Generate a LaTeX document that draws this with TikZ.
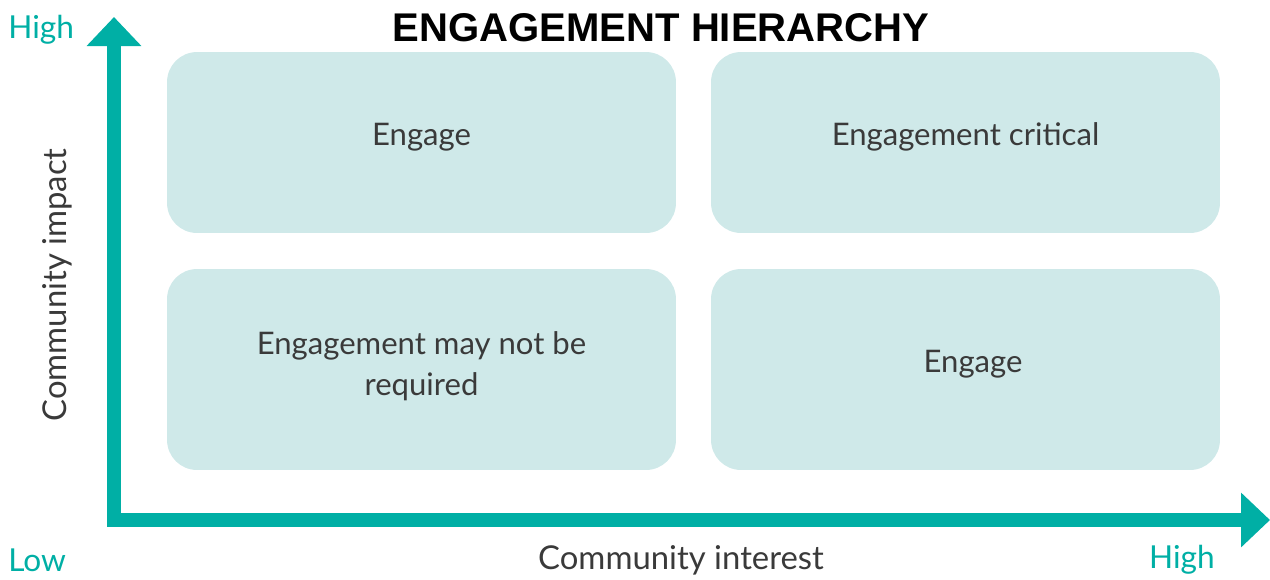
\documentclass[tikz,border=0pt]{standalone}
\usepackage{fontspec}
\setmainfont{Lato}
\newfontfamily\titlefont{Liberation Sans}
\usetikzlibrary{arrows.meta,positioning}

\definecolor{teal}{HTML}{00AFA5}
\definecolor{cell}{HTML}{CFE9E9}
\definecolor{ink}{HTML}{3A3A3A}

\begin{document}
\begin{tikzpicture}[x=0.02cm,y=-0.02cm,
    box/.style={rectangle,rounded corners=0.6cm,fill=cell,minimum width=10.18cm,text=ink,font=\fontsize{17.7}{23.5}\selectfont,align=center,text depth=0.33cm},
    axis/.style={draw=teal,line width=0.28cm,line join=miter,{Triangle[length=0.58cm,width=1.06cm]}-{Triangle[length=0.58cm,width=1.06cm]}},
    level/.style={text=teal,font=\fontsize{18}{20}\selectfont,inner sep=0pt},
    axislabel/.style={text=ink,font=\fontsize{18.7}{20}\selectfont}]
    \useasboundingbox (0,0) rectangle (1270,579);

    % title
    \node[font=\titlefont\bfseries\fontsize{22.8}{26}\selectfont] (title) at (661,28) {ENGAGEMENT HIERARCHY};

    % the four cells
    \node[box,minimum height=3.62cm] (hilo) at (421.5,142.5) {Engage};
    \node[box,minimum height=3.62cm] (hihi) at (965.5,142.5) {Engagement critical};
    \node[box,minimum height=4.02cm,text depth=0.25cm] (lolo) at (421.5,369.5) {Engagement may not be\\required};
    \node[box,minimum height=4.02cm] (lohi) at (965.5,369.5) {\hspace{0.3cm}Engage};

    % axes
    \coordinate (origin) at (114,520);
    \coordinate (ytop) at (114,17);
    \coordinate (xend) at (1270,520);
    \draw[axis] (ytop) -- (origin) -- (xend);

    % axis labels
    \node[level,anchor=west] (yhigh) at (8,30) {High};
    \node[level,anchor=west] (xlow) at (8,560) {Low};
    \node[level,anchor=east] (xhigh) at (1215,560) {High};
    \node[axislabel] (xlabel) at (681,560) {Community interest};
    \node[axislabel,rotate=90] (ylabel) at (57,285) {Community impact};
\end{tikzpicture}
\end{document}
